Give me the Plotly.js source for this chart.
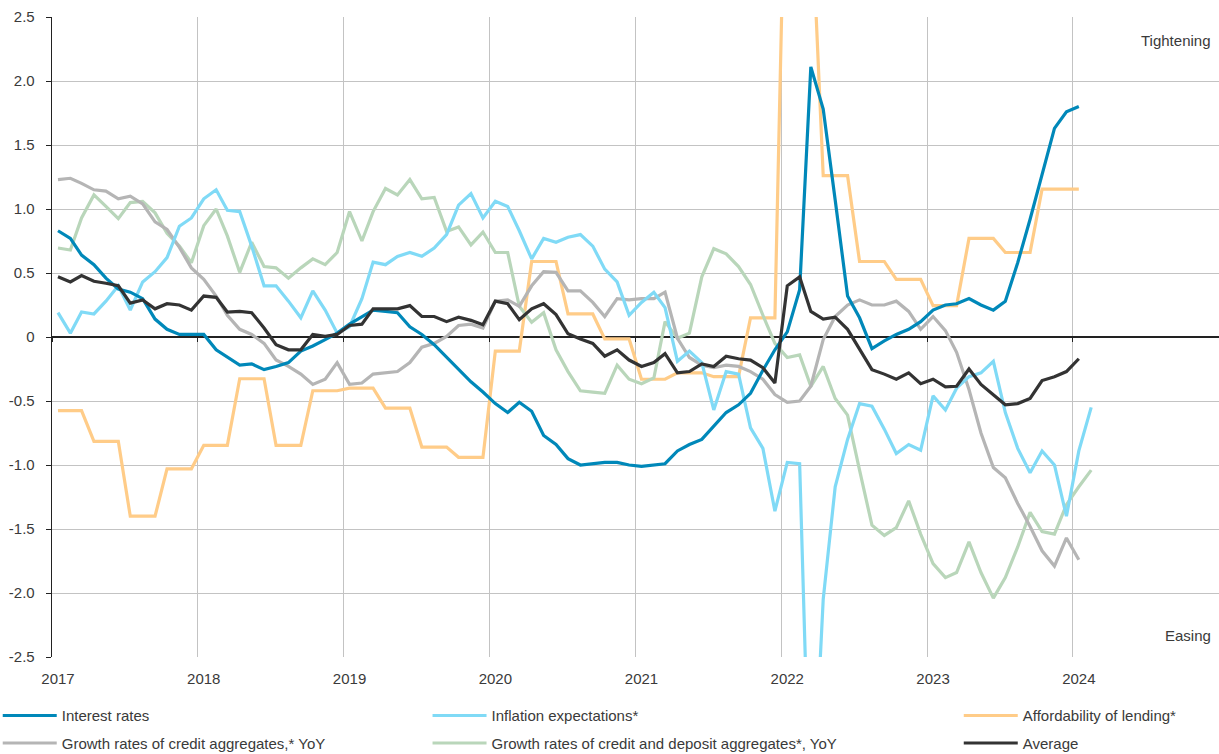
<!DOCTYPE html>
<html>
<head>
<meta charset="utf-8">
<script src="https://cdn.plot.ly/plotly-3.0.1.min.js"></script>
<style>html,body{margin:0;padding:0;background:#fff;}#chart{width:1219px;height:754px;}</style>
</head>
<body>
<div id="chart"></div>
<script>
// Monthly observations, starting January 2017 (plotted mid-month)
const startYear = 2017;
function monthLabels(n) {
  const out = [];
  for (let i = 0; i < n; i++) {
    const y = startYear + Math.floor(i / 12);
    const m = (i % 12) + 1;
    out.push(y + '-' + (m < 10 ? '0' + m : m) + '-16');
  }
  return out;
}

const interestRates = [
  0.83, 0.77, 0.64, 0.565, 0.46, 0.375, 0.35, 0.30, 0.14, 0.06, 0.02, 0.02,
  0.02, -0.10, -0.16, -0.22, -0.21, -0.255, -0.23, -0.20, -0.11, -0.07, -0.02, 0.03,
  0.10, 0.16, 0.21, 0.20, 0.19, 0.08, 0.02, -0.06, -0.16, -0.25, -0.35, -0.43,
  -0.52, -0.59, -0.51, -0.58, -0.77, -0.84, -0.95, -1.00, -0.99, -0.98, -0.98, -1.00,
  -1.01, -1.00, -0.99, -0.89, -0.84, -0.80, -0.70, -0.59, -0.53, -0.44, -0.26, -0.10,
  0.04, 0.37, 2.11, 1.78, 1.07, 0.32, 0.15, -0.09, -0.03, 0.02, 0.06, 0.12,
  0.21, 0.25, 0.26, 0.30, 0.25, 0.21, 0.28, 0.58, 0.92, 1.26, 1.63, 1.76,
  1.80
];

const inflationExpectations = [
  0.19, 0.03, 0.195, 0.18, 0.28, 0.40, 0.21, 0.43, 0.51, 0.62, 0.865, 0.93,
  1.08, 1.15, 0.99, 0.98, 0.71, 0.40, 0.40, 0.28, 0.15, 0.36, 0.21, 0.03,
  0.08, 0.30, 0.585, 0.565, 0.63, 0.66, 0.63, 0.695, 0.80, 1.03, 1.12, 0.93,
  1.06, 1.02, 0.83, 0.61, 0.77, 0.74, 0.78, 0.80, 0.71, 0.53, 0.43, 0.17,
  0.27, 0.35, 0.23, -0.19, -0.11, -0.20, -0.57, -0.27, -0.29, -0.71, -0.87, -1.36,
  -0.98, -0.99, -4.0, -2.05, -1.17, -0.80, -0.52, -0.54, -0.72, -0.91, -0.84, -0.885,
  -0.46, -0.57, -0.40, -0.31, -0.28, -0.19, -0.59, -0.87, -1.06, -0.89, -1.00, -1.40,
  -0.89, -0.55
];

const affordabilityOfLending = [
  -0.575, -0.575, -0.575, -0.815, -0.815, -0.815, -1.40, -1.40, -1.40, -1.03, -1.03, -1.03,
  -0.846, -0.846, -0.846, -0.326, -0.326, -0.326, -0.846, -0.846, -0.846, -0.42, -0.42, -0.42,
  -0.40, -0.40, -0.40, -0.555, -0.555, -0.555, -0.86, -0.86, -0.86, -0.94, -0.94, -0.94,
  -0.11, -0.11, -0.11, 0.59, 0.59, 0.59, 0.18, 0.18, 0.18, -0.015, -0.015, -0.015,
  -0.33, -0.33, -0.33, -0.28, -0.28, -0.28, -0.31, -0.31, -0.31, 0.15, 0.15, 0.15,
  4.5, 4.5, 3.45, 1.26, 1.26, 1.26, 0.59, 0.59, 0.59, 0.45, 0.45, 0.45,
  0.245, 0.245, 0.245, 0.77, 0.77, 0.77, 0.66, 0.66, 0.66, 1.155, 1.155, 1.155,
  1.155
];

const creditAggregates = [
  1.23, 1.24, 1.20, 1.15, 1.14, 1.08, 1.10, 1.04, 0.90, 0.84, 0.70, 0.54,
  0.45, 0.32, 0.17, 0.06, 0.02, -0.05, -0.18, -0.23, -0.29, -0.37, -0.33, -0.20,
  -0.37, -0.36, -0.29, -0.28, -0.27, -0.20, -0.08, -0.05, 0.005, 0.09, 0.10, 0.07,
  0.28, 0.29, 0.24, 0.40, 0.51, 0.505, 0.36, 0.36, 0.27, 0.16, 0.30, 0.29,
  0.30, 0.30, 0.35, -0.01, -0.16, -0.22, -0.24, -0.22, -0.23, -0.27, -0.33, -0.45,
  -0.51, -0.50, -0.385, -0.02, 0.16, 0.25, 0.29, 0.25, 0.25, 0.28, 0.20, 0.06,
  0.16, 0.05, -0.12, -0.41, -0.75, -1.02, -1.10, -1.30, -1.48, -1.67, -1.79, -1.57,
  -1.74
];

const creditDepositAggregates = [
  0.695, 0.68, 0.93, 1.11, 1.02, 0.925, 1.05, 1.06, 0.97, 0.81, 0.71, 0.58,
  0.87, 1.00, 0.79, 0.505, 0.74, 0.55, 0.54, 0.46, 0.54, 0.61, 0.565, 0.66,
  0.98, 0.75, 0.98, 1.16, 1.11, 1.23, 1.08, 1.09, 0.825, 0.86, 0.72, 0.82,
  0.66, 0.66, 0.24, 0.115, 0.19, -0.10, -0.27, -0.42, -0.43, -0.44, -0.22, -0.33,
  -0.365, -0.32, 0.12, -0.01, 0.03, 0.47, 0.69, 0.65, 0.55, 0.41, 0.17, -0.05,
  -0.16, -0.14, -0.385, -0.23, -0.48, -0.61, -1.04, -1.47, -1.55, -1.49, -1.28, -1.54,
  -1.77, -1.88, -1.84, -1.60, -1.84, -2.04, -1.88, -1.64, -1.37, -1.52, -1.54, -1.31,
  -1.17, -1.04
];

const average = [
  0.47, 0.43, 0.48, 0.435, 0.42, 0.40, 0.265, 0.29, 0.22, 0.26, 0.25, 0.21,
  0.32, 0.31, 0.195, 0.20, 0.19, 0.07, -0.06, -0.10, -0.10, 0.02, 0.005, 0.02,
  0.09, 0.10, 0.22, 0.22, 0.22, 0.245, 0.16, 0.16, 0.12, 0.155, 0.13, 0.095,
  0.28, 0.26, 0.135, 0.22, 0.26, 0.175, 0.025, -0.015, -0.05, -0.15, -0.10, -0.18,
  -0.23, -0.20, -0.13, -0.28, -0.27, -0.21, -0.23, -0.15, -0.17, -0.18, -0.24, -0.36,
  0.40, 0.47, 0.20, 0.14, 0.155, 0.06, -0.10, -0.255, -0.29, -0.33, -0.28, -0.365,
  -0.33, -0.39, -0.385, -0.25, -0.37, -0.45, -0.53, -0.52, -0.48, -0.34, -0.31, -0.27,
  -0.17
];

const seriesNames = [
  'Interest rates',
  'Inflation expectations*',
  'Affordability of lending*',
  'Growth rates of credit aggregates,* YoY',
  'Growth rates of credit and deposit aggregates*, YoY',
  'Average'
];
const yTickVals = [2.5, 2.0, 1.5, 1.0, 0.5, 0, -0.5, -1.0, -1.5, -2.0, -2.5];
const yTickText = ['2.5', '2.0', '1.5', '1.0', '0.5', '0', '-0.5', '-1.0', '-1.5', '-2.0', '-2.5'];
const xTickVals = ['2017-01-01','2018-01-01','2019-01-01','2020-01-01','2021-01-01','2022-01-01','2023-01-01','2024-01-01','2025-01-01'];
const xTickText = ['2017','2018','2019','2020','2021','2022','2023','2024',''];

const colors = ['#0088b9', '#80daf6', '#ffcc88', '#b5b5b5', '#b9d6ba', '#333333'];
const values = [interestRates, inflationExpectations, affordabilityOfLending, creditAggregates, creditDepositAggregates, average];
const legendIds = ['legend', 'legend2', 'legend3', 'legend', 'legend2', 'legend3'];
// draw order: orange, green, gray, light blue, blue, black
const drawOrder = [2, 4, 3, 1, 0, 5];
const legendRank = [1, 1, 1, 2, 2, 2];

const traces = drawOrder.map(k => ({
  type: 'scatter',
  mode: 'lines',
  name: seriesNames[k],
  x: monthLabels(values[k].length),
  y: values[k],
  line: {color: colors[k], width: 3.2},
  legend: legendIds[k],
  legendrank: legendRank[k],
  legendgroup: 'g' + legendRank[k],
  hoverinfo: 'skip'
}));
// invisible trace to activate the zero-line tick axis
traces.push({type: 'scatter', mode: 'lines', x: [], y: [], xaxis: 'x2', yaxis: 'y', showlegend: false, hoverinfo: 'skip'});

const fontFam = 'Liberation Sans, Arial, sans-serif';
const txt = '#3a3a3a';
const legendCommon = {
  orientation: 'v', yanchor: 'top', xanchor: 'left', y: -0.066,
  font: {family: fontFam, size: 15, color: txt},
  bgcolor: 'rgba(0,0,0,0)', itemwidth: 54, tracegroupgap: 5, traceorder: 'grouped'
};

const layout = {
  width: 1219, height: 754,
  margin: {l: 52, r: 0, t: 17, b: 97, autoexpand: false},
  paper_bgcolor: '#ffffff', plot_bgcolor: '#ffffff',
  font: {family: fontFam, size: 15, color: txt},
  showlegend: true,
  hovermode: false,
  xaxis: {
    type: 'date', range: ['2017-01-01', '2025-01-01'],
    tickvals: xTickVals, ticktext: xTickText,
    showgrid: true, gridcolor: '#c3c3c3', gridwidth: 1,
    showline: false, zeroline: false, ticks: '', ticklabelshift: 6, ticklabelstandoff: 11,
    tickfont: {family: fontFam, size: 15, color: txt}
  },
  xaxis2: {
    type: 'date', range: ['2017-01-01', '2025-01-01'], overlaying: 'x', anchor: 'free', position: 0.5,
    tickvals: xTickVals, showticklabels: false, showgrid: false, showline: false, zeroline: false,
    ticks: 'outside', ticklen: 4, tickwidth: 1, tickcolor: '#222'
  },
  yaxis: {
    range: [-2.5, 2.5], tickvals: yTickVals, ticktext: yTickText,
    showgrid: true, gridcolor: '#c3c3c3', gridwidth: 1,
    zeroline: true, zerolinecolor: '#222', zerolinewidth: 1.3,
    showline: true, linecolor: '#222', linewidth: 1.3,
    ticks: 'outside', ticklen: 5, tickcolor: '#222', tickwidth: 1,
    ticklabelstandoff: 8,
    tickfont: {family: fontFam, size: 15, color: txt}
  },
  legend: Object.assign({}, legendCommon, {x: -0.0465}),
  legend2: Object.assign({}, legendCommon, {x: 0.3218}),
  legend3: Object.assign({}, legendCommon, {x: 0.7770}),
  annotations: [
    {xref: 'paper', yref: 'paper', x: 1, y: 0.964, xanchor: 'right', yanchor: 'middle', xshift: -6,
     text: 'Tightening', showarrow: false, font: {family: fontFam, size: 15, color: txt}},
    {xref: 'paper', yref: 'paper', x: 1, y: 0.034, xanchor: 'right', yanchor: 'middle', xshift: -6,
     text: 'Easing', showarrow: false, font: {family: fontFam, size: 15, color: txt}}
  ]
};

Plotly.newPlot('chart', traces, layout, {staticPlot: true, displayModeBar: false});
</script>
</body>
</html>
